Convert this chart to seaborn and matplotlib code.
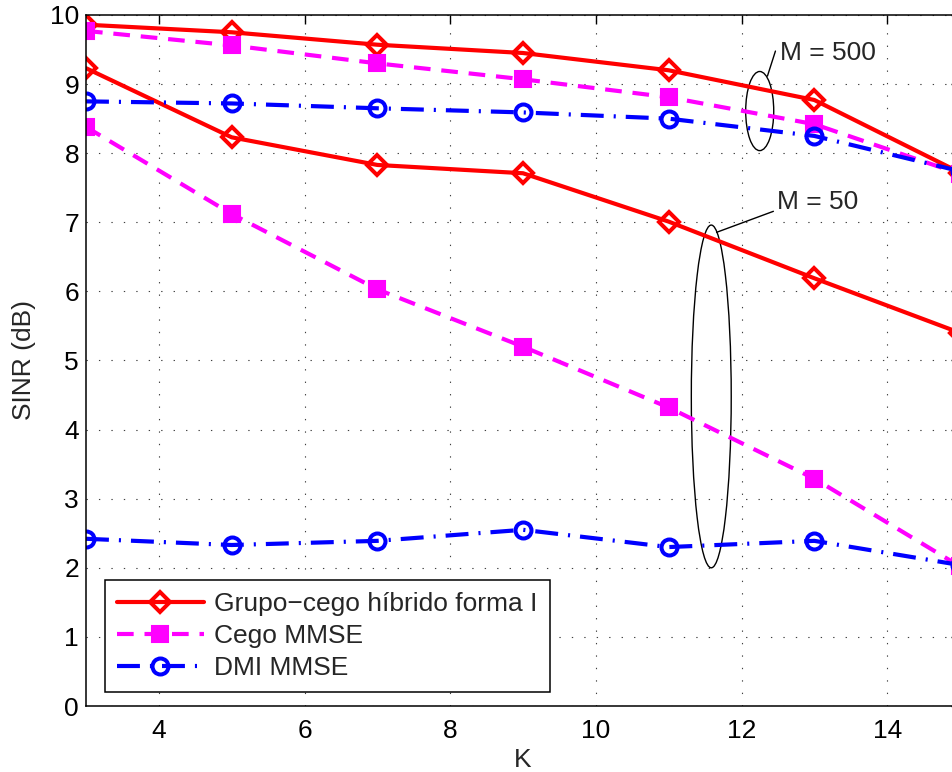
import numpy as np
import pandas as pd
import matplotlib
matplotlib.use("Agg")
import matplotlib.pyplot as plt
from matplotlib.patches import Ellipse
import seaborn as sns

# ---------------- data ----------------
K = [3, 5, 7, 9, 11, 13, 15]
hib_500 = [9.86, 9.75, 9.57, 9.45, 9.20, 8.77, 7.72]
cego_500 = [9.77, 9.56, 9.30, 9.07, 8.81, 8.42, 7.70]
dmi_500 = [8.75, 8.72, 8.65, 8.59, 8.50, 8.25, 7.74]
hib_50 = [9.23, 8.23, 7.83, 7.71, 7.01, 6.19, 5.40]
cego_50 = [8.38, 7.12, 6.03, 5.20, 4.32, 3.29, 2.02]
dmi_50 = [2.42, 2.33, 2.39, 2.55, 2.30, 2.39, 2.04]
labels = ["Grupo\u2212cego híbrido forma I", "Cego MMSE", "DMI MMSE"]
xticks = [4, 6, 8, 10, 12, 14]
yticks = list(range(0, 11))

FS = 19

sns.set_theme(style="white")
plt.rcParams["font.family"] = ["Liberation Sans", "DejaVu Sans"]
plt.rcParams["font.size"] = FS

fig = plt.figure(figsize=(9.52, 7.72), dpi=100)
ax = fig.add_axes([86 / 952, 66 / 772, 874 / 952, 691 / 772])

styles = [
    dict(color="#ff0000", linestyle="-", marker="D", markersize=10,
         markerfacecolor="none", markeredgecolor="#ff0000", markeredgewidth=2.9),
    dict(color="#ff00ff", dashes=(4, 2.6), marker="s", markersize=11.5,
         markerfacecolor="#ff00ff", markeredgecolor="#ff00ff", markeredgewidth=1.5),
    dict(color="#0000ff", dashes=(5.5, 2.4, 0.5, 2.4), marker="o", markersize=11.5,
         markerfacecolor="none", markeredgecolor="#0000ff", markeredgewidth=2.9),
]

series = [(hib_500, hib_50), (cego_500, cego_50), (dmi_500, dmi_50)]
handles = []
for (s500, s50), st, lab in zip(series, styles, labels):
    for vals in (s500, s50):
        df = pd.DataFrame({"K": K, "SINR": vals})
        sns.lineplot(data=df, x="K", y="SINR", ax=ax, linewidth=3, clip_on=True, **st)
    handles.append(ax.lines[-1])

ax.set_xticks(xticks)
ax.set_yticks(yticks)
ax.set_xlim(3, 15)
ax.set_ylim(0, 10)
ax.set_xlabel("K", fontsize=FS, labelpad=4)
ax.set_ylabel("SINR (dB)", fontsize=FS, labelpad=10)

ax.grid(True, color="0.25", linestyle=(0, (1.2, 10)), linewidth=0.8)
ax.tick_params(direction="in", length=6.5, width=1, top=True, right=True,
               labelsize=FS, colors="black")
ax.tick_params(axis="x", pad=9)
ax.tick_params(axis="y", pad=5)
for sp in ax.spines.values():
    sp.set_color("black")
    sp.set_linewidth(1.1)
    sp.set_visible(True)

# annotations
ax.add_patch(Ellipse((12.25, 8.61), 0.385, 1.145, fill=False, edgecolor="black", linewidth=1))
ax.plot([12.356, 12.466], [9.116, 9.478], color="black", linewidth=1)
ax.text(12.53, 9.45, "M = 500", fontsize=FS, va="center", ha="left")

ax.add_patch(Ellipse((11.585, 4.48), 0.548, 4.96, fill=False, edgecolor="black", linewidth=1))
ax.plot([11.658, 12.438], [6.855, 7.159], color="black", linewidth=1)
ax.text(12.49, 7.30, "M = 50", fontsize=FS, va="center", ha="left")

leg = ax.legend(handles, labels, loc="lower left", bbox_to_anchor=(0.0217, 0.0203),
                borderaxespad=0, fontsize=FS, handlelength=3.3, frameon=True,
                fancybox=False, shadow=False, framealpha=1, edgecolor="black",
                borderpad=0.45, labelspacing=0.3, handletextpad=0.4)
leg.get_frame().set_linewidth(1.1)

fig.savefig("out.png", dpi=100)
